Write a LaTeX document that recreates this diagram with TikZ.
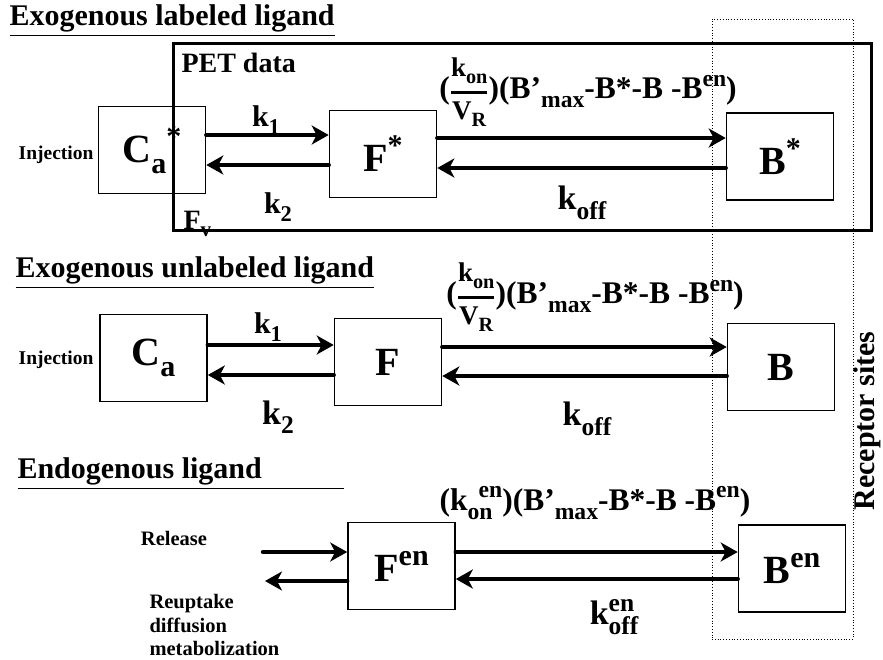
\documentclass[tikz,border=0pt]{standalone}
\usepackage{amsmath}
\usepackage{graphicx}
\usepackage{fontspec}
\setmainfont{Liberation Serif}
\usetikzlibrary{arrows.meta, positioning, calc}
\newcommand{\lowtxt}[1]{\raisebox{-0.28em}{\scalebox{0.75}{#1}}}
\newcommand{\hightxt}[1]{\raisebox{0.40em}{\scalebox{0.75}{#1}}}
\newcommand{\konvr}{$\genfrac{}{}{2.5pt}{0}{\text{\fontsize{27}{27}\selectfont k\lowtxt{on}}}{\text{\fontsize{27}{27}\selectfont V\lowtxt{R}}}$}

\begin{document}
\bfseries
\begin{tikzpicture}[x=1pt, y=-1pt,
      compbox/.style={draw, line width=1.6pt, minimum width=107pt,
        minimum height=87pt, inner sep=0pt, font=\fontsize{40}{42}\selectfont},
      flow/.style={line width=4.5pt, line cap=round,
        -{Stealth[length=17pt, width=19pt, inset=5pt]}},
      heading/.style={anchor=west, font=\fontsize{30}{32}\selectfont},
      rate/.style={font=\fontsize{31.5}{33}\selectfont},
      ksmall/.style={font=\fontsize{30}{32}\selectfont},
      kbig/.style={font=\fontsize{34}{36}\selectfont},
      note/.style={font=\fontsize{20.5}{23.5}\selectfont}
    ]
      \useasboundingbox (0,0) rectangle (883,659);
      % receptor sites
      \node[draw, dotted, line width=0.8pt, minimum width=141pt,
        minimum height=620pt] (receptor) at (782.5,329) {};
      \node[rotate=90, anchor=base, font=\fontsize{30}{32}\selectfont,
        inner sep=0pt] (rlabel) at (874,421) {Receptor sites};

      % exogenous labeled ligand
      \node[heading] (title1) at (6,21) {\underline{Exogenous labeled ligand}};
      \node[anchor=base west, font=\fontsize{28}{30}\selectfont] (fv)
        at (180,229) {F\lowtxt{v}};
      \node[draw, line width=3pt, minimum width=698pt, minimum height=187pt]
        (pet) at (522,136.5) {};
      \node[anchor=west, font=\fontsize{28}{30}\selectfont] (petlabel)
        at (178,63) {PET data};
      \node[compbox] (ca1) at (152,150) {C\lowtxt{a}\hightxt{*}};
      \node[note, anchor=east, font=\fontsize{19.5}{22}\selectfont] (inj1)
        at (97,155) {Injection};
      \node[compbox] (f1) at (383,154) {F\hightxt{*}};
      \node[compbox] (b1) at (780,156.5) {B\hightxt{*}};
      \draw[flow] ([yshift=15pt]ca1.east) -- ([yshift=15pt]ca1.east -| f1.west);
      \draw[flow] ([yshift=-15pt]ca1.east -| f1.west) -- ([yshift=-15pt]ca1.east);
      \draw[flow] ([yshift=16pt]f1.east) -- ([yshift=16pt]f1.east -| b1.west);
      \draw[flow] ([yshift=-14pt]f1.east -| b1.west) -- ([yshift=-14pt]f1.east);
      \node[ksmall] (k1a) at (266,120) {k\lowtxt{1}};
      \node[ksmall] (k2a) at (278,207) {k\lowtxt{2}};
      \node[kbig] (koffa) at (582,203) {k\lowtxt{off}};
      \node[rate] (ratea) at (588,92)
        {(\konvr)(B’\lowtxt{max}-B*-B -B\hightxt{en})};

      % exogenous unlabeled ligand
      \node[heading] (title2) at (12,273) {\underline{Exogenous unlabeled ligand}};
      \node[compbox] (ca2) at (153.5,358) {C\lowtxt{a}};
      \node[note, anchor=east, font=\fontsize{19.5}{22}\selectfont] (inj2)
        at (97,360) {Injection};
      \node[compbox] (f2) at (388,362) {F};
      \node[compbox] (b2) at (781,367) {B};
      \draw[flow] ([yshift=13pt]ca2.east) -- ([yshift=13pt]ca2.east -| f2.west);
      \draw[flow] ([yshift=-17pt]ca2.east -| f2.west) -- ([yshift=-17pt]ca2.east);
      \draw[flow] ([yshift=15pt]f2.east) -- ([yshift=15pt]f2.east -| b2.west);
      \draw[flow] ([yshift=-14pt]f2.east -| b2.west) -- ([yshift=-14pt]f2.east);
      \node[ksmall] (k1b) at (268,327) {k\lowtxt{1}};
      \node[kbig] (k2b) at (278,417) {k\lowtxt{2}};
      \node[kbig] (koffb) at (587,419) {k\lowtxt{off}};
      \node[rate] (rateb) at (595,297)
        {(\konvr)(B’\lowtxt{max}-B*-B -B\hightxt{en})};

      % endogenous ligand
      \node[heading] (title3) at (14,474)
        {\underline{Endogenous ligand\hspace{82pt}}};
      \node[note] (release) at (174,538) {Release};
      \node[compbox] (fen) at (401.5,566) {F\hightxt{en}};
      \node[compbox] (ben) at (792,568.5) {B\hightxt{en}};
      \coordinate (relin) at (263,552);
      \coordinate (reuout) at (265,581);
      \draw[flow] (relin) -- (relin -| fen.west);
      \draw[flow] (reuout -| fen.west) -- (reuout);
      \draw[flow] ([yshift=14pt]fen.east) -- ([yshift=14pt]fen.east -| ben.west);
      \draw[flow] ([yshift=-13pt]fen.east -| ben.west) -- ([yshift=-13pt]fen.east);
      \node[note, anchor=north west, align=left] (reuptake) at (146,591)
        {Reuptake\\diffusion\\metabolization};
      \node[rate] (ratec) at (595,503)
        {(k\rlap{\lowtxt{on}}\hspace{0.35em}\hightxt{en})(B’\lowtxt{max}-B*-B -B\hightxt{en})};
      \node[kbig] (koffc) at (612,617)
        {k\rlap{\lowtxt{off}}\hightxt{en}};
    \end{tikzpicture}
\end{document}
